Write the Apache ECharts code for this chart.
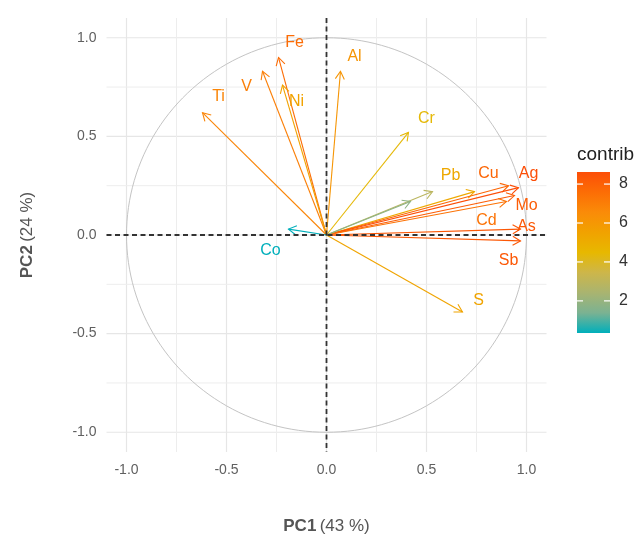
<!DOCTYPE html>
<html><head><meta charset="utf-8">
<script src="https://cdn.jsdelivr.net/npm/echarts@6/dist/echarts.min.js"></script>
<style>html,body{margin:0;padding:0;background:#fff}#c{width:641px;height:540px}</style>
</head><body><div id="c"></div>
<script>
// ---- data ----
const variables = ['Ti','V','Fe','Ni','Al','Cr','Pb','Cu','Ag','Mo','Cd','As','Sb','S','Co','',''];
const pc1 =      [-0.62,-0.32,-0.24,-0.22,0.07,0.41,0.74,0.91,0.96,0.94,0.90,0.97,0.97,0.68,-0.19,0.53,0.42];
const pc2 =      [ 0.62, 0.83, 0.90, 0.76,0.83,0.52,0.22,0.25,0.24,0.20,0.17,0.03,-0.03,-0.39,0.03,0.22,0.17];
const contrib =  [ 6.77, 6.96, 7.63, 5.51,6.10,4.40,5.24,7.84,8.62,8.13,7.38,8.29,8.29,5.41,0.35,2.90,1.81];
// label anchor points (repelled text), data units
const labelX =   [-0.54,-0.40,-0.16,-0.15,0.14,0.50,0.62,0.81,1.01,1.00,0.80,1.00,0.91,0.76,-0.28,0,0];
const labelY =   [ 0.70, 0.75, 0.975,0.675,0.905,0.59,0.30,0.31,0.31,0.15,0.073,0.043,-0.13,-0.33,-0.08,0,0];
const majorTicks = [-1,-0.5,0,0.5,1];
const minorTicks = [-0.75,-0.25,0.25,0.75];
const legendTicks = [2,4,6,8];
const xTitle = ['PC1','(43 %)'];
const yTitle = ['PC2','(24 %)'];
const legendTitle = 'contrib';
// #00AFBB -> #E7B800 -> #FC4E07, interpolated in Lab space (as ggplot does)
const gradientCols = ['#00AFBB','#7BB292','#A9B470','#CDB64A','#E7B800','#F1A200','#FA8B08','#FC6D05','#FC4E07'];

const FONT = '"Liberation Sans", Arial, sans-serif';
const cMin = Math.min(...contrib), cMax = Math.max(...contrib);
const chart = echarts.init(document.getElementById('c'));

const tickFmt = v => Math.abs(v) > 1.01 ? '' : v.toFixed(1);
const titleRich = { b: { fontWeight: 'bold', fontSize: 17, color: '#555', fontFamily: FONT }, n: { fontSize: 17, color: '#555', fontFamily: FONT } };

const option = {
  animation: false,
  backgroundColor: '#fff',
  title: { text: legendTitle, left: 572, top: 140, textStyle: { fontSize: 19, fontWeight: 'normal', color: '#222', fontFamily: FONT } },
  grid: [
    { left: 106.5, top: 18, width: 440, height: 439 },
    { left: 577, top: 172, width: 33, height: 161 }
  ],
  xAxis: [
    { type: 'value', gridIndex: 0, min: -1.1, max: 1.1,
      axisLine: { show: false }, axisTick: { show: false }, splitLine: { show: false },
      axisLabel: { formatter: tickFmt, color: '#606060', fontSize: 14, margin: 11, fontFamily: FONT },
      name: '{b|' + xTitle[0] + '} {n|' + xTitle[1] + '}', nameLocation: 'middle', nameGap: 66,
      nameTextStyle: { rich: titleRich } },
    { type: 'value', gridIndex: 1, min: 0, max: 1, show: false }
  ],
  yAxis: [
    { type: 'value', gridIndex: 0, min: -1.1, max: 1.1,
      axisLine: { show: false }, axisTick: { show: false }, splitLine: { show: false },
      axisLabel: { formatter: tickFmt, color: '#606060', fontSize: 14, margin: 10, fontFamily: FONT },
      name: '{b|' + yTitle[0] + '} {n|' + yTitle[1] + '}', nameLocation: 'middle', nameGap: 71, nameRotate: 90,
      nameTextStyle: { rich: titleRich } },
    { type: 'value', gridIndex: 1, min: cMin, max: cMax, show: false }
  ],
  visualMap: {
    type: 'continuous', show: false, min: cMin, max: cMax, dimension: 2, seriesIndex: 2,
    inRange: { color: gradientCols }
  },
  series: [
    { // grid lines
      type: 'custom', xAxisIndex: 0, yAxisIndex: 0, z: 1, silent: true,
      data: majorTicks.map(v => [v, 1]).concat(minorTicks.map(v => [v, 0])),
      renderItem: (params, api) => {
        const cs = params.coordSys;
        const v = api.value(0), major = api.value(1) === 1;
        const px = api.coord([v, 0])[0], py = api.coord([0, v])[1];
        const st = { stroke: major ? '#E6E6E6' : '#EDEDED', lineWidth: major ? 1.2 : 1 };
        return { type: 'group', children: [
          { type: 'line', shape: { x1: px, y1: cs.y, x2: px, y2: cs.y + cs.height }, style: st },
          { type: 'line', shape: { x1: cs.x, y1: py, x2: cs.x + cs.width, y2: py }, style: st }
        ] };
      }
    },
    { // correlation circle
      type: 'custom', xAxisIndex: 0, yAxisIndex: 0, z: 2, silent: true,
      data: [[0, 0]],
      renderItem: (params, api) => {
        const pts = [];
        for (let a = 0; a <= 360; a += 2) {
          const r = a * Math.PI / 180;
          pts.push(api.coord([Math.cos(r), Math.sin(r)]));
        }
        return { type: 'polyline', shape: { points: pts }, style: { stroke: '#C4C4C4', lineWidth: 1, fill: null } };
      }
    },
    { // arrows + labels
      type: 'custom', xAxisIndex: 0, yAxisIndex: 0, z: 3, silent: true,
      data: pc1.map((x, i) => [x, pc2[i], contrib[i], labelX[i], labelY[i]]),
      renderItem: (params, api) => {
        const o = api.coord([0, 0]);
        const p = api.coord([api.value(0), api.value(1)]);
        const col = api.visual('color');
        const ang = Math.atan2(p[1] - o[1], p[0] - o[0]);
        const L = 9, A = Math.PI / 6;
        const b1 = [p[0] - L * Math.cos(ang - A), p[1] - L * Math.sin(ang - A)];
        const b2 = [p[0] - L * Math.cos(ang + A), p[1] - L * Math.sin(ang + A)];
        const children = [
          { type: 'line', shape: { x1: o[0], y1: o[1], x2: p[0], y2: p[1] }, style: { stroke: col, lineWidth: 1.1 } },
          { type: 'polyline', shape: { points: [b1, p, b2] }, style: { stroke: col, lineWidth: 1.1, fill: null } }
        ];
        const name = variables[params.dataIndex];
        if (name) {
          const t = api.coord([api.value(3), api.value(4)]);
          children.push({ type: 'text', x: t[0], y: t[1], style: { text: name, fill: col, fontSize: 16, fontFamily: FONT,
            align: 'center', verticalAlign: 'middle', textAlign: 'center', textVerticalAlign: 'middle' } });
        }
        return { type: 'group', children };
      }
    },
    { // dashed zero lines
      type: 'custom', xAxisIndex: 0, yAxisIndex: 0, z: 4, silent: true,
      data: [[0, 0]],
      renderItem: (params, api) => {
        const cs = params.coordSys;
        const o = api.coord([0, 0]);
        const st = { stroke: '#333', lineWidth: 1.8, lineDash: [5, 3.5] };
        return { type: 'group', children: [
          { type: 'line', shape: { x1: o[0], y1: cs.y, x2: o[0], y2: cs.y + cs.height }, style: st },
          { type: 'line', shape: { x1: cs.x, y1: o[1], x2: cs.x + cs.width, y2: o[1] }, style: st }
        ] };
      }
    },
    { // colour bar
      type: 'custom', xAxisIndex: 1, yAxisIndex: 1, z: 2, silent: true,
      data: [[0, cMax]],
      renderItem: (params, api) => {
        const a = api.coord([0, cMax]), b = api.coord([1, cMin]);
        const n = gradientCols.length - 1;
        const stops = gradientCols.map((c, i) => ({ offset: 1 - i / n, color: c })).reverse();
        return { type: 'rect', shape: { x: a[0], y: a[1], width: b[0] - a[0], height: b[1] - a[1] },
          style: { fill: new echarts.graphic.LinearGradient(0, 0, 0, 1, stops) } };
      }
    },
    { // colour bar ticks and labels
      type: 'custom', xAxisIndex: 1, yAxisIndex: 1, z: 3, silent: true,
      data: legendTicks.map(v => [0, v]),
      renderItem: (params, api) => {
        const cs = params.coordSys;
        const y = api.coord([0, api.value(1)])[1];
        const x0 = cs.x, x1 = cs.x + cs.width;
        const st = { stroke: '#fff', lineWidth: 1.2 };
        return { type: 'group', children: [
          { type: 'line', shape: { x1: x0, y1: y, x2: x0 + 6, y2: y }, style: st },
          { type: 'line', shape: { x1: x1 - 6, y1: y, x2: x1, y2: y }, style: st },
          { type: 'text', x: x1 + 9, y: y, style: { text: String(api.value(1)), fill: '#333', fontSize: 16, fontFamily: FONT,
            align: 'left', verticalAlign: 'middle', textAlign: 'left', textVerticalAlign: 'middle' } }
        ] };
      }
    }
  ]
};
chart.setOption(option);
</script>
</body></html>
